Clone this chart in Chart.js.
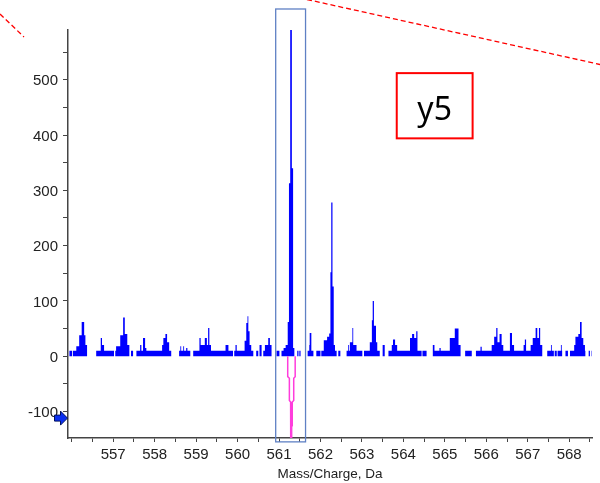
<!DOCTYPE html>
<html>
<head>
<meta charset="utf-8">
<title>y5 - Mass/Charge</title>
<script src="https://cdn.jsdelivr.net/npm/chart.js@4"></script>
<style>
  html, body { margin: 0; padding: 0; background: #fff; }
  #wrap { width: 600px; height: 483px; }
</style>
</head>
<body>
<div id="wrap"><canvas id="spectrum" width="600" height="483"></canvas></div>
<script>
const mzSteps = [
  555.94, 556.01, 556.03, 556.11, 556.18, 556.24, 556.30, 556.33, 556.37, 556.59,
  556.70, 556.73, 556.78, 557.02, 557.05, 557.07, 557.17, 557.24, 557.28, 557.34,
  557.39, 557.43, 557.48, 557.56, 557.65, 557.68, 557.72, 557.77, 557.80, 558.18,
  558.21, 558.26, 558.30, 558.35, 558.40, 558.59, 558.62, 558.64, 558.69, 558.71,
  558.76, 558.79, 558.86, 558.93, 559.08, 559.11, 559.21, 559.26, 559.29, 559.32,
  559.36, 559.71, 559.78, 559.89, 559.92, 559.95, 559.98, 560.17, 560.21, 560.24,
  560.26, 560.29, 560.33, 560.38, 560.45, 560.50, 560.53, 560.58, 560.62, 560.66,
  560.74, 560.78, 560.82, 560.94, 561.01, 561.06, 561.11, 561.16, 561.21, 561.24,
  561.27, 561.31, 561.34, 561.37, 561.44, 561.47, 561.49, 561.52, 561.69, 561.73,
  561.74, 561.78, 561.83, 561.90, 562.00, 562.02, 562.08, 562.16, 562.21, 562.24,
  562.26, 562.29, 562.32, 562.35, 562.39, 562.43, 562.48, 562.63, 562.67, 562.69,
  562.71, 562.77, 562.79, 562.87, 563.01, 563.05, 563.19, 563.24, 563.26, 563.29,
  563.34, 563.37, 563.43, 563.50, 563.55, 563.64, 563.72, 563.75, 563.80, 563.85,
  564.16, 564.21, 564.26, 564.31, 564.34, 564.44, 564.46, 564.56, 564.71, 564.75,
  564.87, 564.90, 565.12, 565.24, 565.33, 565.38, 565.49, 565.65, 565.75, 565.86,
  565.89, 566.13, 566.19, 566.24, 566.27, 566.32, 566.37, 566.41, 566.57, 566.62,
  566.67, 566.90, 566.93, 566.96, 567.07, 567.12, 567.19, 567.23, 567.27, 567.30,
  567.35, 567.47, 567.56, 567.58, 567.63, 567.65, 567.70, 567.72, 567.80, 567.82,
  567.83, 567.91, 567.97, 568.02, 568.12, 568.15, 568.22, 568.26, 568.30, 568.34,
  568.38, 568.39, 568.47, 568.50, 568.54, 568.58
];
const intensitySteps = [
  10, 0, 10, 18, 38, 62, 38, 20, 0, 10,
  33, 20, 10, 0, 10, 18, 38, 70, 40, 20,
  0, 10, 0, 10, 20, 10, 33, 15, 10, 20,
  33, 40, 25, 10, 0, 10, 18, 10, 18, 10,
  15, 10, 0, 10, 33, 20, 33, 20, 51, 20,
  10, 20, 10, 0, 10, 20, 10, 28, 60, 72,
  45, 20, 10, 0, 10, 0, 20, 0, 10, 20,
  33, 20, 0, 10, 0, 10, 15, 20, 62, 313,
  590, 340, 15, 0, 10, 0, 10, 0, 10, 20,
  42, 10, 0, 10, 0, 10, 29, 35, 41, 152,
  278, 126, 20, 10, 0, 10, 0, 10, 20, 10,
  25, 51, 20, 10, 0, 10, 25, 65, 100, 55,
  25, 10, 0, 20, 0, 10, 20, 30, 20, 10,
  33, 40, 33, 45, 10, 0, 10, 0, 20, 10,
  15, 10, 33, 50, 20, 0, 10, 0, 10, 17,
  10, 20, 35, 51, 25, 40, 20, 10, 42, 20,
  10, 20, 30, 10, 20, 33, 51, 33, 51, 20,
  0, 10, 20, 10, 0, 10, 0, 10, 20, 10,
  0, 10, 0, 10, 20, 35, 40, 62, 33, 20,
  10, 0, 10, 0, 10, 10
];

// Reference trace (magenta), drawn downward
const refMz = [561.21, 561.21, 561.25, 561.25, 561.28, 561.28, 561.285, 561.285,
               561.305, 561.305, 561.32, 561.32, 561.355, 561.355, 561.39, 561.39];
const refIntensity = [0, -37, -40, -80, -83, -125, -128, -175,
                      -175, -128, -125, -83, -80, -40, -37, 0];

// Axes
const xRange = [555.91, 568.55];
const yRange = [-148, 590];
const xTickMarks = [556, 556.5, 557, 557.5, 558, 558.5, 559, 559.5, 560, 560.5, 561, 561.5,
                    562, 562.5, 563, 563.5, 564, 564.5, 565, 565.5, 566, 566.5, 567, 567.5,
                    568, 568.5];
const xTickLabels = [557, 558, 559, 560, 561, 562, 563, 564, 565, 566, 567, 568];
const yTickMarks = [-100, -50, 0, 50, 100, 150, 200, 250, 300, 350, 400, 450, 500, 550];
const yTickLabels = [-100, 0, 100, 200, 300, 400, 500];

// Selected window and the fragment label
const windowMz = [560.92, 561.64];
const windowY = [-155, 628];
const labelMz = [563.84, 565.67];
const labelY = [394, 512];
const labelText = 'y5';
const markerY = -112;

const tickFont = { family: 'Liberation Sans', size: 15 };
const textColor = '#222';
const axisColor = '#444';

const decorations = {
  id: 'decorations',
  afterDatasetsDraw(chart) {
    const { ctx, chartArea } = chart;
    const x = chart.scales.x, y = chart.scales.y;
    ctx.save();

    // selection window
    const wx0 = x.getPixelForValue(windowMz[0]);
    const wx1 = x.getPixelForValue(windowMz[1]);
    const wy0 = y.getPixelForValue(windowY[1]);
    const wy1 = y.getPixelForValue(windowY[0]);
    ctx.strokeStyle = '#5f80c4';
    ctx.lineWidth = 1.3;
    ctx.strokeRect(wx0, wy0, wx1 - wx0, wy1 - wy0);

    // label box
    const bx0 = x.getPixelForValue(labelMz[0]);
    const bx1 = x.getPixelForValue(labelMz[1]);
    const by0 = y.getPixelForValue(labelY[1]);
    const by1 = y.getPixelForValue(labelY[0]);
    ctx.fillStyle = '#fff';
    ctx.fillRect(bx0, by0, bx1 - bx0, by1 - by0);
    ctx.strokeStyle = '#ff0000';
    ctx.lineWidth = 2;
    ctx.strokeRect(bx0, by0, bx1 - bx0, by1 - by0);
    ctx.fillStyle = '#000';
    ctx.font = '32px "Noto Sans"';
    ctx.textAlign = 'center';
    ctx.textBaseline = 'alphabetic';
    ctx.fillText(labelText, (bx0 + bx1) / 2, by0 + (by1 - by0) * 0.72);

    // red leader lines coming from outside the plot
    ctx.strokeStyle = '#ff0000';
    ctx.lineWidth = 1.3;
    ctx.setLineDash([5, 3]);
    ctx.beginPath();
    ctx.moveTo(307, -0.5);
    ctx.lineTo(600, 64.5);
    ctx.moveTo(0, 14);
    ctx.lineTo(24, 37);
    ctx.stroke();
    ctx.setLineDash([]);

    // marker arrow on the y axis
    const tx = chartArea.left - 0.5;
    const ty = y.getPixelForValue(markerY);
    ctx.beginPath();
    ctx.moveTo(tx, ty);
    ctx.lineTo(tx - 7, ty - 7);
    ctx.lineTo(tx - 7, ty - 3);
    ctx.lineTo(tx - 13, ty - 3);
    ctx.lineTo(tx - 13, ty + 3);
    ctx.lineTo(tx - 7, ty + 3);
    ctx.lineTo(tx - 7, ty + 7);
    ctx.closePath();
    ctx.fillStyle = '#0b2ff0';
    ctx.fill();
    ctx.strokeStyle = '#00115e';
    ctx.lineWidth = 1;
    ctx.stroke();

    ctx.restore();
  }
};

new Chart(document.getElementById('spectrum'), {
  type: 'line',
  data: {
    datasets: [
      {
        label: 'Reference',
        data: refMz.map((m, i) => ({ x: m, y: refIntensity[i] })),
        borderColor: '#ff3ddc',
        borderWidth: 1.5,
        pointRadius: 0,
        fill: false,
        tension: 0
      },
      {
        label: 'Spectrum',
        data: mzSteps.map((m, i) => ({ x: m, y: intensitySteps[i] })),
        stepped: true,
        fill: 'origin',
        backgroundColor: '#0000ff',
        borderColor: 'rgba(0,0,0,0)',
        borderWidth: 0,
        pointRadius: 0
      }
    ]
  },
  options: {
    responsive: false,
    animation: false,
    layout: { padding: { left: 0, right: 8, top: 30, bottom: 0 } },
    plugins: {
      legend: { display: false },
      tooltip: { enabled: false }
    },
    scales: {
      x: {
        type: 'linear',
        min: xRange[0],
        max: xRange[1],
        afterBuildTicks: s => { s.ticks = xTickMarks.map(v => ({ value: v })); },
        afterFit: s => { s.height = 45; },
        ticks: {
          autoSkip: false,
          maxRotation: 0,
          padding: 4,
          font: tickFont,
          color: textColor,
          callback: v => xTickLabels.includes(v) ? String(v) : ''
        },
        grid: { drawOnChartArea: false, drawTicks: true, tickLength: 4, color: axisColor, lineWidth: 1 },
        border: { display: true, color: axisColor, width: 1.5 },
        title: {
          display: true,
          text: 'Mass/Charge, Da',
          font: { family: 'Liberation Sans', size: 13.5 },
          color: textColor,
          padding: { top: 0, bottom: 1 }
        }
      },
      y: {
        min: yRange[0],
        max: yRange[1],
        afterBuildTicks: s => { s.ticks = yTickMarks.map(v => ({ value: v })); },
        afterFit: s => { s.width = 68; },
        ticks: {
          autoSkip: false,
          padding: 5,
          labelOffset: 1.5,
          font: tickFont,
          color: textColor,
          callback: v => yTickLabels.includes(v) ? String(v) : ''
        },
        grid: { drawOnChartArea: false, drawTicks: true, tickLength: 5, color: axisColor, lineWidth: 1 },
        border: { display: true, color: axisColor, width: 1.5 }
      }
    }
  },
  plugins: [decorations]
});
</script>
</body>
</html>
